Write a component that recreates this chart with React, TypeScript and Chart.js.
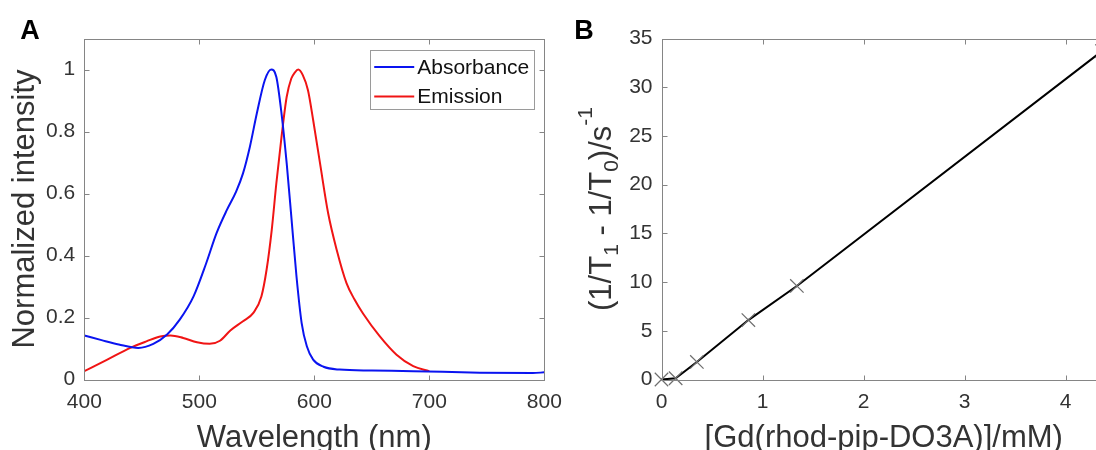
import React, { useEffect, useRef } from 'react';
import { Chart, registerables } from 'chart.js';

Chart.register(...registerables);

const FONT = "'Liberation Sans', Arial, Helvetica, sans-serif";
const TEXT = '#333333';
const AXIS = '#858585';

// ---- Panel A data ----
const absWavelength = [400, 415, 430, 447, 460, 472, 483, 495, 506, 515, 524, 532, 538, 544, 550, 557, 562.5, 567, 571.5, 576, 580, 584.5, 589, 593.5, 599, 608, 622, 650, 686, 744, 790, 800];
const absValues = [0.142, 0.127, 0.113, 0.102, 0.115, 0.145, 0.193, 0.268, 0.375, 0.472, 0.547, 0.606, 0.665, 0.751, 0.858, 0.966, 1.0, 0.976, 0.858, 0.697, 0.526, 0.333, 0.182, 0.107, 0.064, 0.041, 0.032, 0.029, 0.027, 0.022, 0.021, 0.023];

const emWavelength = [400, 420, 440, 454, 466, 475, 486, 498, 509, 518, 527, 538, 547, 554, 558.5, 563, 567, 571.5, 576, 580, 583, 586, 590, 594.5, 599, 605, 612, 619.5, 628, 635, 642.5, 657, 671.5, 686, 700];
const emValues = [0.027, 0.064, 0.102, 0.123, 0.139, 0.142, 0.134, 0.12, 0.115, 0.125, 0.158, 0.188, 0.215, 0.268, 0.354, 0.483, 0.633, 0.783, 0.912, 0.971, 0.99, 1.0, 0.982, 0.933, 0.837, 0.697, 0.537, 0.418, 0.311, 0.258, 0.212, 0.139, 0.08, 0.043, 0.027];

const wavelengthTicks = [400, 500, 600, 700, 800];
const intensityTicks = [0, 0.2, 0.4, 0.6, 0.8, 1];

// ---- Panel B data ----
const concentration = [0, 0.14, 0.35, 0.86, 1.34, 4.36];
const relaxRate = [0, 0.13, 1.8, 6.1, 9.6, 33.7];
const concTicks = [0, 1, 2, 3, 4];
const rateTicks = [0, 5, 10, 15, 20, 25, 30, 35];

const relaxTitleParts = [
  { t: '(1/T', k: 'n' },
  { t: '1', k: 'sub' },
  { t: ' - 1/T', k: 'n' },
  { t: '0', k: 'sub' },
  { t: ')/s', k: 'n' },
  { t: '-1', k: 'sup' },
];

const zip = (xs: number[], ys: number[]) => xs.map((x, i) => ({ x, y: ys[i] }));

const fmt = (v: number) => String(Math.round(v * 100) / 100);

const boxPlugin = {
  id: 'matBox',
  afterDatasetsDraw(chart: any) {
    const { ctx, chartArea: ca, scales } = chart;
    ctx.save();
    ctx.strokeStyle = AXIS;
    ctx.lineWidth = 1;
    const L = Math.round(ca.left) + 0.5;
    const R = Math.round(ca.right) + 0.5;
    const T = Math.round(ca.top) + 0.5;
    const B = Math.round(ca.bottom) + 0.5;
    ctx.strokeRect(L, T, R - L, B - T);
    const tl = 5;
    ctx.beginPath();
    scales.x.ticks.forEach((t: any) => {
      const p = Math.round(scales.x.getPixelForValue(t.value)) + 0.5;
      ctx.moveTo(p, B); ctx.lineTo(p, B - tl);
      ctx.moveTo(p, T); ctx.lineTo(p, T + tl);
    });
    scales.y.ticks.forEach((t: any) => {
      const p = Math.round(scales.y.getPixelForValue(t.value)) + 0.5;
      ctx.moveTo(L, p); ctx.lineTo(L + tl, p);
      ctx.moveTo(R, p); ctx.lineTo(R - tl, p);
    });
    ctx.stroke();
    ctx.restore();
  },
};

const legendPlugin = {
  id: 'boxLegend',
  afterDraw(chart: any, _a: any, opts: any) {
    if (!opts || !opts.show) return;
    const { ctx, chartArea: ca } = chart;
    const ds = chart.data.datasets;
    ctx.save();
    ctx.font = `21px ${FONT}`;
    const maxW = Math.max(...ds.map((d: any) => ctx.measureText(d.label).width));
    const lineLen = 40;
    const padL = 4.5;
    const gap = 3;
    const rowH = 29.5;
    const w = padL + lineLen + gap + maxW + 4;
    const h = rowH * ds.length - 0.5;
    const right = ca.right - 11;
    const left = right - w;
    const top = ca.top + 11.5;
    ctx.fillStyle = '#ffffff';
    ctx.fillRect(left, top, w, h);
    ctx.strokeStyle = '#9a9a9a';
    ctx.lineWidth = 1;
    ctx.strokeRect(Math.round(left) + 0.5, Math.round(top) + 0.5, Math.round(w), Math.round(h));
    ds.forEach((d: any, i: number) => {
      const cy = top + 17 + i * rowH;
      ctx.strokeStyle = d.borderColor;
      ctx.lineWidth = 2;
      ctx.beginPath();
      ctx.moveTo(left + padL, cy);
      ctx.lineTo(left + padL + lineLen, cy);
      ctx.stroke();
      ctx.fillStyle = '#111111';
      ctx.textBaseline = 'middle';
      ctx.textAlign = 'left';
      ctx.fillText(d.label, left + padL + lineLen + gap, cy + 1);
    });
    ctx.restore();
  },
};

const panelLabelPlugin = {
  id: 'panelLabel',
  afterDraw(chart: any, _a: any, opts: any) {
    if (!opts || !opts.text) return;
    const { ctx } = chart;
    ctx.save();
    ctx.font = `bold 27px ${FONT}`;
    ctx.fillStyle = '#000000';
    ctx.textAlign = 'center';
    ctx.textBaseline = 'alphabetic';
    ctx.fillText(opts.text, opts.x, opts.y);
    ctx.restore();
  },
};

const richTitlePlugin = {
  id: 'richYTitle',
  afterDraw(chart: any, _a: any, opts: any) {
    if (!opts || !opts.parts) return;
    const { ctx, chartArea: ca } = chart;
    const size = (k: string) => (k === 'n' ? 31 : 21);
    const shift = (k: string) => (k === 'sub' ? 7 : k === 'sup' ? -19 : 0);
    ctx.save();
    const widths = opts.parts.map((p: any) => {
      ctx.font = `${size(p.k)}px ${FONT}`;
      return ctx.measureText(p.t).width;
    });
    const total = widths.reduce((s: number, w: number) => s + w, 0);
    ctx.translate(ca.left + opts.dx, (ca.top + ca.bottom) / 2);
    ctx.rotate(-Math.PI / 2);
    ctx.fillStyle = TEXT;
    ctx.textAlign = 'left';
    ctx.textBaseline = 'alphabetic';
    let x = -total / 2;
    opts.parts.forEach((p: any, i: number) => {
      ctx.font = `${size(p.k)}px ${FONT}`;
      ctx.fillText(p.t, x, shift(p.k));
      x += widths[i];
    });
    ctx.restore();
  },
};

const tickFont = { family: FONT, size: 21 };

function makeAxes(opts: {
  xMin: number; xMax: number; xTicks: number[]; xTitle: string;
  yMin: number; yMax: number; yTicks: number[]; yTitle?: string;
  yWidth: number;
}) {
  return {
    x: {
      type: 'linear',
      min: opts.xMin,
      max: opts.xMax,
      afterBuildTicks: (s: any) => { s.ticks = opts.xTicks.map((v) => ({ value: v })); },
      afterFit: (s: any) => { s.height = 70.5; },
      grid: { display: false, drawTicks: false },
      border: { display: false },
      ticks: { color: TEXT, font: tickFont, padding: 10, maxRotation: 0, autoSkip: false, callback: (v: any) => fmt(Number(v)) },
      title: { display: true, text: opts.xTitle, color: TEXT, font: { family: FONT, size: 31, lineHeight: 0.75 }, padding: 0 },
    },
    y: {
      type: 'linear',
      min: opts.yMin,
      max: opts.yMax,
      afterBuildTicks: (s: any) => { s.ticks = opts.yTicks.map((v) => ({ value: v })); },
      afterFit: (s: any) => { s.width = opts.yWidth; },
      grid: { display: false, drawTicks: false },
      border: { display: false },
      ticks: { color: TEXT, font: tickFont, padding: 9, autoSkip: false, callback: (v: any) => fmt(Number(v)) },
      title: opts.yTitle
        ? { display: true, text: opts.yTitle, color: TEXT, font: { family: FONT, size: 31, lineHeight: 1.2 }, padding: { top: 7, bottom: 0 } }
        : { display: false },
    },
  };
}

export default function App() {
  const aRef = useRef<HTMLCanvasElement>(null);
  const bRef = useRef<HTMLCanvasElement>(null);

  useEffect(() => {
    const chartA = new Chart(aRef.current as HTMLCanvasElement, {
      type: 'line',
      data: {
        datasets: [
          {
            label: 'Absorbance',
            data: zip(absWavelength, absValues),
            borderColor: '#0a14f0',
            borderWidth: 2,
            pointRadius: 0,
            cubicInterpolationMode: 'monotone',
          },
          {
            label: 'Emission',
            data: zip(emWavelength, emValues),
            borderColor: '#f01414',
            borderWidth: 2,
            pointRadius: 0,
            cubicInterpolationMode: 'monotone',
          },
        ],
      },
      options: {
        responsive: false,
        animation: false,
        events: [],
        layout: { padding: { top: 38.5, right: 55.7, left: 0, bottom: 0 } },
        scales: makeAxes({
          xMin: 400, xMax: 800, xTicks: wavelengthTicks, xTitle: 'Wavelength (nm)',
          yMin: 0, yMax: 1.1, yTicks: intensityTicks, yTitle: 'Normalized intensity',
          yWidth: 84.3,
        }) as any,
        plugins: {
          legend: { display: false },
          tooltip: { enabled: false },
          boxLegend: { show: true },
          panelLabel: { text: 'A', x: 30, y: 38.5 },
        } as any,
      },
      plugins: [boxPlugin, legendPlugin, panelLabelPlugin],
    } as any);

    const chartB = new Chart(bRef.current as HTMLCanvasElement, {
      type: 'line',
      data: {
        datasets: [
          {
            label: 'Relaxation rate',
            data: zip(concentration, relaxRate),
            borderColor: '#000000',
            borderWidth: 2,
            tension: 0,
            clip: false,
            pointStyle: 'crossRot',
            pointRadius: 9.5,
            pointBorderWidth: 1.2,
            pointBorderColor: '#6e6e6e',
            pointBackgroundColor: 'rgba(0,0,0,0)',
          },
        ],
      },
      options: {
        responsive: false,
        animation: false,
        events: [],
        layout: { padding: { top: 38.5, right: 14, left: 0, bottom: 0 } },
        scales: makeAxes({
          xMin: 0, xMax: 4.4, xTicks: concTicks, xTitle: '[Gd(rhod-pip-DO3A)]/mM)',
          yMin: 0, yMax: 35, yTicks: rateTicks,
          yWidth: 101.5,
        }) as any,
        plugins: {
          legend: { display: false },
          tooltip: { enabled: false },
          panelLabel: { text: 'B', x: 24, y: 38.5 },
          richYTitle: { parts: relaxTitleParts, dx: -50.5 },
        } as any,
      },
      plugins: [boxPlugin, panelLabelPlugin, richTitlePlugin],
    } as any);

    return () => {
      chartA.destroy();
      chartB.destroy();
    };
  }, []);

  return (
    <div style={{ position: 'absolute', left: 0, top: 0, width: 1096, height: 450, overflow: 'hidden', background: '#ffffff' }}>
      <div style={{ position: 'absolute', left: 0, top: 0, width: 600, height: 450 }}>
        <canvas ref={aRef} width={600} height={450} style={{ display: 'block' }} />
      </div>
      <div style={{ position: 'absolute', left: 560, top: 0, width: 560, height: 450 }}>
        <canvas ref={bRef} width={560} height={450} style={{ display: 'block' }} />
      </div>
    </div>
  );
}
